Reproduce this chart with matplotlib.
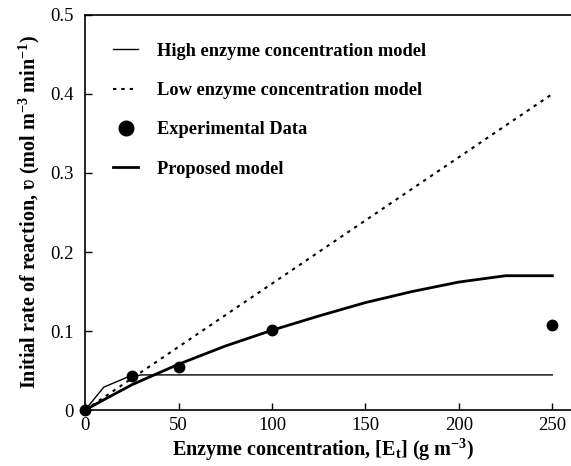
import numpy as np
import matplotlib
matplotlib.use('Agg')
import matplotlib.pyplot as plt

#data
exp_x = [0, 25, 50, 100, 250]
exp_y = [0, 0.043, 0.054, 0.101, 0.108]

high_x = [0, 10, 22, 30, 250]
high_y = [0, 0.029, 0.041, 0.0445, 0.0445]

low_x = [0, 250]
low_y = [0, 0.4]

prop_x = [0, 10, 25, 50, 75, 100, 125, 150, 175, 200, 225, 250]
prop_y = [0, 0.013, 0.032, 0.058, 0.081, 0.101, 0.119, 0.136, 0.150, 0.162, 0.170, 0.170]

plt.rcParams['font.family'] = ['Liberation Serif', 'DejaVu Serif']
plt.rcParams['mathtext.fontset'] = 'custom'
plt.rcParams['mathtext.rm'] = 'Liberation Serif:bold'
plt.rcParams['mathtext.it'] = 'Liberation Serif:bold'
plt.rcParams['mathtext.bf'] = 'Liberation Serif:bold'

fig = plt.figure(figsize=(5.71, 4.66), dpi=100)
ax = fig.add_axes([0.149, 0.120, 0.851, 0.848])

ax.plot(high_x, high_y, 'k-', lw=1.0, label='High enzyme concentration model')
ax.plot(low_x, low_y, 'k--', lw=1.5, dashes=(1.6, 2.4), label='Low enzyme concentration model')
ax.plot(exp_x, exp_y, 'ko', ms=7.5, ls='none', clip_on=False, zorder=5, label='Experimental Data')
ax.plot(prop_x, prop_y, 'k-', lw=2.0, label='Proposed model')

ax.set_xlim(0, 260)
ax.set_ylim(0, 0.5)
ax.set_xticks([0, 50, 100, 150, 200, 250])
ax.set_yticks([0, 0.1, 0.2, 0.3, 0.4, 0.5])
ax.set_yticklabels(['0', '0.1', '0.2', '0.3', '0.4', '0.5'])
ax.tick_params(direction='in', length=5, width=1, labelsize=13.5)
ax.tick_params(axis='y', pad=8)
ax.tick_params(axis='x', pad=5)
ax.spines['right'].set_visible(False)
for s in ['left', 'bottom', 'top']:
    ax.spines[s].set_linewidth(1.2)

ax.set_xlabel('Enzyme concentration, [E$_t$] (g m$^{-3}$)', fontsize=14.5, fontweight='bold')
ax.set_ylabel('Initial rate of reaction, \u028b (mol m$^{-3}$ min$^{-1}$)', fontsize=14.5, fontweight='bold')
ax.xaxis.set_label_coords(0.49, -0.068)
ax.yaxis.set_label_coords(-0.088, 0.5)

leg = ax.legend(loc='upper left', bbox_to_anchor=(0.058, 0.93), frameon=False,
                prop={'weight': 'bold', 'size': 13.2}, handlelength=1.36,
                handletextpad=1.05, labelspacing=1.22, markerscale=1.4,
                borderpad=0, borderaxespad=0)

fig.savefig('out.png', dpi=100)
